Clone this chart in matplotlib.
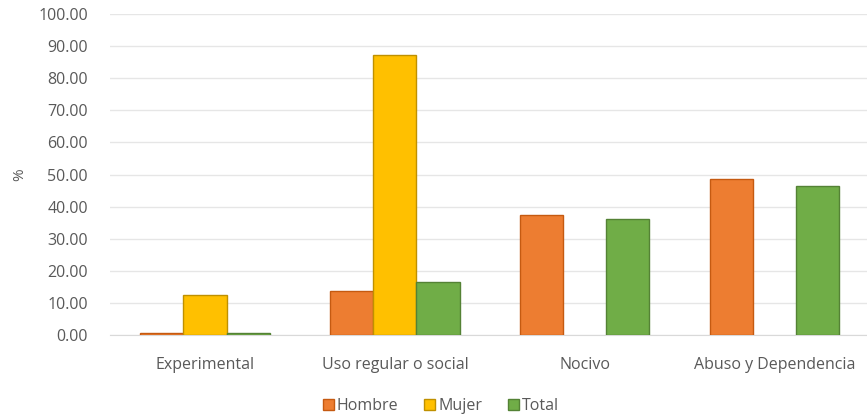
import matplotlib.pyplot as plt
import numpy as np

plt.rcParams['font.family'] = ['Open Sans', 'DejaVu Sans']

categories = ["Experimental", "Uso regular o social", "Nocivo", "Abuso y Dependencia"]
hombre = [0.6, 13.8, 37.4, 48.5]
mujer = [12.5, 87.2, 0.0, 0.0]
total = [0.6, 16.4, 36.0, 46.5]

series = [("Hombre", hombre, "#ED7D31", "#C55A11"),
          ("Mujer", mujer, "#FFC000", "#BF9000"),
          ("Total", total, "#70AD47", "#548235")]

fig = plt.figure(figsize=(8.67, 4.19), dpi=100)
ax = fig.add_axes([0.127, 0.2005, 0.876, 0.766])

x = np.arange(len(categories))
w = 0.227
for i, (name, vals, fc, ec) in enumerate(series):
    lw = [1.0 if v > 0 else 0 for v in vals]
    ax.bar(x + (i - 1) * w, vals, w, color=fc, edgecolor=ec, linewidth=lw,
           label=name, zorder=3)

ax.set_xlim(-0.5, len(categories) - 0.5)
ax.set_ylim(0, 100)
ax.set_yticks(np.arange(0, 101, 10))
ax.set_yticklabels([f"{v:.2f}" for v in range(0, 101, 10)])
ax.set_xticks(x)
ax.set_xticklabels(categories)
ax.tick_params(axis="both", length=0, labelsize=11.5, colors="#595959")
ax.tick_params(axis="x", pad=16)
ax.tick_params(axis="y", pad=16)
ax.grid(axis="y", color="#e6e6e6", linewidth=1, zorder=0)
for s in ["top", "right", "left"]:
    ax.spines[s].set_visible(False)
ax.spines["bottom"].set_color("#d9d9d9")
ax.set_ylabel("%", color="#595959", fontsize=11, labelpad=8)

ax.legend(loc="center", bbox_to_anchor=(441 / 867, 13 / 419), bbox_transform=fig.transFigure,
          ncol=3, frameon=False, fontsize=11.5, handlelength=0.7, handleheight=0.7,
          handletextpad=0.2, columnspacing=1.6, labelcolor="#595959")
for h in ax.get_legend().legend_handles:
    h.set_linewidth(1.0)

fig.savefig("out.png", dpi=100)
